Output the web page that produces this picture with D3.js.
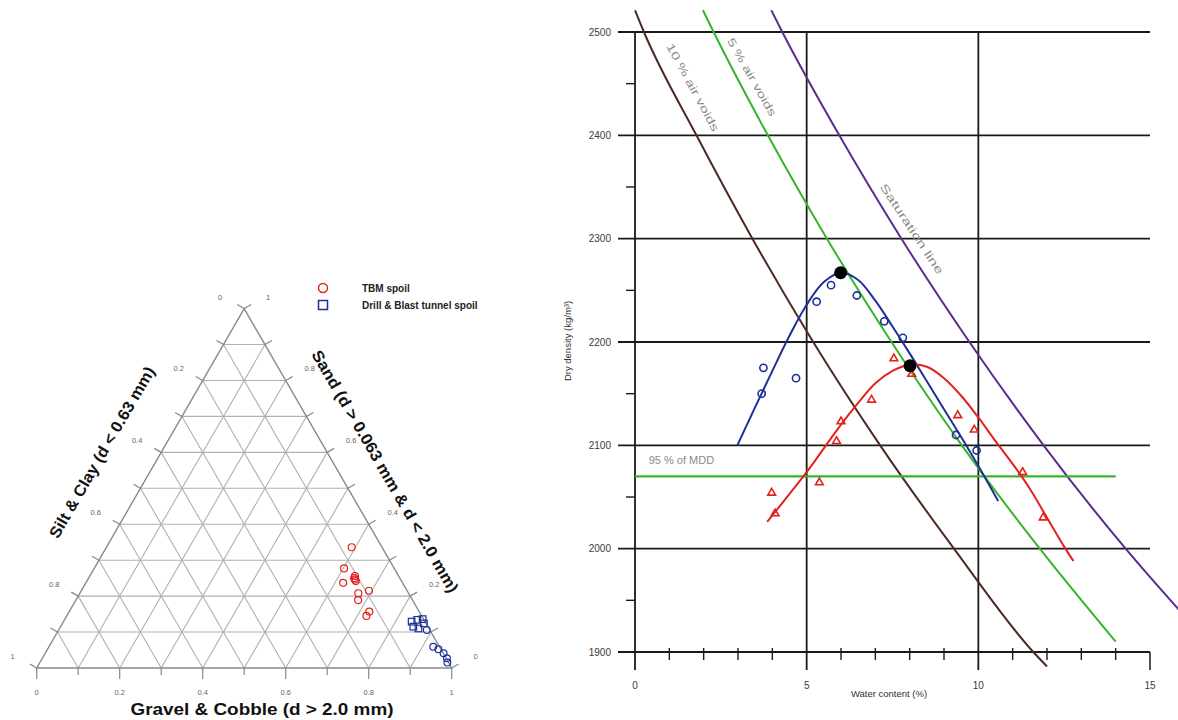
<!DOCTYPE html>
<html>
<head>
<meta charset="utf-8">
<script src="https://cdn.jsdelivr.net/npm/d3@7"></script>
<style>
  html, body { margin: 0; padding: 0; background: #ffffff; }
  svg { display: block; }
  text { font-family: "Liberation Sans", Arial, sans-serif; }
</style>
</head>
<body>
<svg id="chart" width="1178" height="720"></svg>
<script>
// ---------------- Ternary diagram data (fractions of gravel & sand; silt & clay is the rest)
const tbmGravel = [0.591, 0.602, 0.620, 0.640, 0.648, 0.644, 0.639, 0.693, 0.671, 0.680, 0.723, 0.722];
const tbmSand   = [0.336, 0.277, 0.237, 0.250, 0.242, 0.246, 0.256, 0.215, 0.208, 0.189, 0.157, 0.145];

const dbSquareGravel = [0.839, 0.850, 0.862, 0.850, 0.865, 0.871];
const dbSquareSand   = [0.129, 0.134, 0.136, 0.115, 0.110, 0.124];
const dbRoundGravel  = [0.887, 0.926, 0.942, 0.960, 0.975, 0.982];
const dbRoundSand    = [0.106, 0.059, 0.052, 0.041, 0.027, 0.015];

const ternaryTicks = [0, 0.2, 0.4, 0.6, 0.8, 1];
const legendLabels = ["TBM spoil", "Drill & Blast tunnel spoil"];

// ---------------- Compaction test data (water content %, dry density kg/m3)
const tbmWater   = [7.54, 8.06, 6.89, 6.00, 5.87, 5.37, 3.98, 4.08, 9.40, 9.88, 11.29, 11.89];
const tbmDensity = [2184, 2169, 2144, 2123, 2104, 2064, 2054, 2034, 2129, 2115, 2074, 2030];

const dbWater   = [3.74, 3.69, 4.69, 5.29, 5.71, 6.46, 7.26, 7.80, 9.35, 9.95];
const dbDensity = [2175, 2150, 2165, 2239, 2255, 2245, 2220, 2204, 2110, 2095];

// fitted compaction curves
const tbmCurveWater   = [3.85, 4.5, 5.0, 5.5, 6.0, 6.5, 7.0, 7.5, 8.0, 8.5, 9.0, 9.5, 10.0, 10.5, 11.0, 11.5, 12.0, 12.5, 12.77];
const tbmCurveDensity = [2026, 2053, 2074, 2097, 2120, 2141, 2160, 2172, 2178, 2176, 2165, 2148, 2127, 2104, 2082, 2058, 2030, 2002, 1988];

const dbCurveWater   = [2.98, 3.5, 4.0, 4.5, 5.0, 5.5, 6.0, 6.5, 7.0, 7.5, 8.0, 8.5, 9.0, 9.5, 10.0, 10.58];
const dbCurveDensity = [2100, 2137, 2172, 2206, 2236, 2258, 2267, 2260, 2240, 2215, 2189, 2162, 2135, 2108, 2080, 2046];

// maximum dry density points
const mddWater   = [5.99, 8.01];
const mddDensity = [2267, 2177];

// air-void lines
const void10Water   = [0, 0.26, 1.79, 3.42, 5.19, 7.14, 9.29, 11.6, 12.0];
const void10Density = [2521, 2500, 2400, 2300, 2200, 2100, 2000, 1900, 1886];
const void5Water    = [1.98, 2.29, 3.87, 5.59, 7.47, 9.52, 11.79, 14.0];
const void5Density  = [2521, 2500, 2400, 2300, 2200, 2100, 2000, 1910];
const satWater      = [3.97, 4.29, 5.95, 7.76, 9.74, 11.9, 14.29, 16.0];
const satDensity    = [2521, 2500, 2400, 2300, 2200, 2100, 2000, 1935];

// 95 % of maximum dry density
const mdd95Density = 2070;
const mdd95Water = [0, 14];

const xTickValues = [0, 5, 10, 15];
const yTickValues = [1900, 2000, 2100, 2200, 2300, 2400, 2500];

// ---------------- colours
const C = {
  red: "#e3211d",
  blue: "#1f2f98",
  brown: "#4b2b22",
  green: "#36b52b",
  purple: "#5a2c90",
  grid: "#1a1a1a",
  label: "#8a8a8a",
  tick: "#3a3a3a"
};

const svg = d3.select("#chart");

// =====================================================================
// Ternary diagram
// =====================================================================
const tern = svg.append("g").attr("class", "ternary");
const triLeft = 36.7, triRight = 451.7, triBase = 668;
const triSide = triRight - triLeft;
const triH = triSide * Math.sqrt(3) / 2;
const gx = d3.scaleLinear().domain([0, 1]).range([triLeft, triRight]);
const sy = d3.scaleLinear().domain([0, 1]).range([triBase, triBase - triH]);
const pt = (g, s) => [gx(g + s / 2), sy(s)];

const tenths = d3.range(1, 10).map(k => k / 10);
const gridSegs = [];
tenths.forEach(v => {
  gridSegs.push([pt(0, v), pt(1 - v, v)]);       // constant sand
  gridSegs.push([pt(v, 0), pt(v, 1 - v)]);       // constant gravel
  gridSegs.push([pt(1 - v, 0), pt(0, 1 - v)]);   // constant silt & clay
});
tern.selectAll("line.tgrid").data(gridSegs).join("line")
  .attr("class", "tgrid")
  .attr("x1", d => d[0][0]).attr("y1", d => d[0][1])
  .attr("x2", d => d[1][0]).attr("y2", d => d[1][1])
  .attr("stroke", "#b0b0b0").attr("stroke-width", 1.1);

tern.append("path")
  .attr("d", d3.line()([pt(0, 0), pt(1, 0), pt(0, 1)]) + "Z")
  .attr("fill", "none").attr("stroke", "#888888").attr("stroke-width", 1.4);

// ticks
const allTenths = d3.range(0, 11).map(k => k / 10);
const ticks = [];
allTenths.forEach((v, i) => {
  const major = i % 2 === 0;
  const b = pt(v, 0);
  ticks.push([b, [b[0], b[1] + (major ? 11 : 7)]]);
  const l = pt(0, v), len = 8;
  ticks.push([l, [l[0] - 0.866 * len, l[1] - 0.5 * len]]);
  const r = pt(1 - v, v);
  ticks.push([r, [r[0] + 0.866 * len, r[1] - 0.5 * len]]);
});
tern.selectAll("line.ttick").data(ticks).join("line")
  .attr("class", "ttick")
  .attr("x1", d => d[0][0]).attr("y1", d => d[0][1])
  .attr("x2", d => d[1][0]).attr("y2", d => d[1][1])
  .attr("stroke", "#888888").attr("stroke-width", 1.2);

const fmtT = v => (v === 0 || v === 1) ? String(v) : v.toFixed(1);
tern.selectAll("text.tb").data(ternaryTicks).join("text")
  .attr("class", "tb")
  .attr("x", d => gx(d)).attr("y", triBase + 27)
  .attr("text-anchor", "middle").attr("font-size", 7.5).attr("fill", "#666")
  .text(fmtT);
tern.selectAll("text.tl").data(ternaryTicks).join("text")
  .attr("class", "tl")
  .attr("x", d => pt(0, 1 - d)[0] - 24).attr("y", d => pt(0, 1 - d)[1] - 9)
  .attr("text-anchor", "middle").attr("font-size", 7.5).attr("fill", "#666")
  .text(fmtT);
tern.selectAll("text.tr").data(ternaryTicks).join("text")
  .attr("class", "tr")
  .attr("x", d => pt(1 - d, d)[0] + 24).attr("y", d => pt(1 - d, d)[1] - 9)
  .attr("text-anchor", "middle").attr("font-size", 7.5).attr("fill", "#666")
  .text(fmtT);

// axis titles
tern.append("text")
  .attr("transform", "translate(103,453) rotate(-60)")
  .attr("text-anchor", "middle").attr("dominant-baseline", "middle")
  .attr("font-size", 16).attr("font-weight", "bold").attr("fill", "#111")
  .attr("textLength", 195).attr("lengthAdjust", "spacingAndGlyphs")
  .text("Silt & Clay (d < 0.63 mm)");
tern.append("text")
  .attr("transform", "translate(384,472) rotate(60)")
  .attr("text-anchor", "middle").attr("dominant-baseline", "middle")
  .attr("font-size", 16).attr("font-weight", "bold").attr("fill", "#111")
  .attr("textLength", 277).attr("lengthAdjust", "spacingAndGlyphs")
  .text("Sand (d > 0.063 mm & d < 2.0 mm)");
tern.append("text")
  .attr("x", 262).attr("y", 715)
  .attr("text-anchor", "middle")
  .attr("font-size", 16).attr("font-weight", "bold").attr("fill", "#111")
  .attr("textLength", 263).attr("lengthAdjust", "spacingAndGlyphs")
  .text("Gravel & Cobble (d > 2.0 mm)");

// points
const tbmPts = tbmGravel.map((g, i) => pt(g, tbmSand[i]));
tern.selectAll("circle.tbm").data(tbmPts).join("circle")
  .attr("class", "tbm")
  .attr("cx", d => d[0]).attr("cy", d => d[1]).attr("r", 3.5)
  .attr("fill", "none").attr("stroke", C.red).attr("stroke-width", 1.2);

const dbSq = dbSquareGravel.map((g, i) => pt(g, dbSquareSand[i]));
tern.selectAll("rect.db").data(dbSq).join("rect")
  .attr("class", "db")
  .attr("x", d => d[0] - 3.3).attr("y", d => d[1] - 3.3)
  .attr("width", 6.6).attr("height", 6.6)
  .attr("fill", "none").attr("stroke", C.blue).attr("stroke-width", 1.2);
const dbRd = dbRoundGravel.map((g, i) => pt(g, dbRoundSand[i]));
tern.selectAll("circle.dbr").data(dbRd).join("circle")
  .attr("class", "dbr")
  .attr("cx", d => d[0]).attr("cy", d => d[1]).attr("r", 3.4)
  .attr("fill", "none").attr("stroke", C.blue).attr("stroke-width", 1.2);

// legend
const leg = tern.append("g");
leg.append("circle").attr("cx", 323).attr("cy", 288).attr("r", 4.5)
  .attr("fill", "none").attr("stroke", C.red).attr("stroke-width", 1.5);
leg.append("rect").attr("x", 318.5).attr("y", 300.5).attr("width", 9).attr("height", 9)
  .attr("fill", "none").attr("stroke", C.blue).attr("stroke-width", 1.5);
leg.selectAll("text").data(legendLabels).join("text")
  .attr("x", 362).attr("y", (d, i) => 292 + i * 17)
  .attr("font-size", 10).attr("font-weight", "bold").attr("fill", "#222")
  .text(d => d);

// =====================================================================
// Compaction chart
// =====================================================================
const comp = svg.append("g").attr("class", "compaction");
const x = d3.scaleLinear().domain([0, 15]).range([635, 1150]);
const y = d3.scaleLinear().domain([1900, 2500]).range([652, 32]);

// horizontal grid lines
comp.selectAll("line.hg").data(yTickValues).join("line")
  .attr("class", "hg")
  .attr("x1", x(0) - 17).attr("x2", x(15))
  .attr("y1", d => y(d)).attr("y2", d => y(d))
  .attr("stroke", C.grid).attr("stroke-width", 1.8);
// vertical grid lines and axis
comp.selectAll("line.vg").data(xTickValues.slice(0, 3)).join("line")
  .attr("class", "vg")
  .attr("x1", d => x(d)).attr("x2", d => x(d))
  .attr("y1", y(2500)).attr("y2", y(1900) + 18)
  .attr("stroke", C.grid).attr("stroke-width", 1.8);
comp.append("line")
  .attr("x1", x(15)).attr("x2", x(15))
  .attr("y1", y(1900)).attr("y2", y(1900) + 18)
  .attr("stroke", C.grid).attr("stroke-width", 1.5);
// minor ticks
const xMinor = d3.range(1, 15).filter(v => v % 5 !== 0);
comp.selectAll("line.xm").data(xMinor).join("line")
  .attr("class", "xm")
  .attr("x1", d => x(d)).attr("x2", d => x(d))
  .attr("y1", y(1900) - 4).attr("y2", y(1900) + 8)
  .attr("stroke", C.grid).attr("stroke-width", 1.4);
const yMinor = d3.range(1950, 2500, 100);
comp.selectAll("line.ym").data(yMinor).join("line")
  .attr("class", "ym")
  .attr("x1", x(0) - 9).attr("x2", x(0))
  .attr("y1", d => y(d)).attr("y2", d => y(d))
  .attr("stroke", C.grid).attr("stroke-width", 1.4);

// tick labels
comp.selectAll("text.yl").data(yTickValues).join("text")
  .attr("class", "yl")
  .attr("x", x(0) - 24).attr("y", d => y(d) + 3.5)
  .attr("text-anchor", "end").attr("font-size", 10).attr("fill", C.tick)
  .text(d => d);
comp.selectAll("text.xl").data(xTickValues).join("text")
  .attr("class", "xl")
  .attr("x", d => x(d)).attr("y", y(1900) + 37)
  .attr("text-anchor", "middle").attr("font-size", 10).attr("fill", C.tick)
  .text(d => d);
comp.append("text")
  .attr("x", 889).attr("y", 697)
  .attr("text-anchor", "middle").attr("font-size", 9.5).attr("fill", "#333")
  .text("Water content (%)");
comp.append("text")
  .attr("transform", "translate(571,341) rotate(-90)")
  .attr("text-anchor", "middle").attr("font-size", 9.5).attr("fill", "#333")
  .text("Dry density (kg/m³)");

// air-void and saturation lines
const lineGen = d3.line().x(d => x(d[0])).y(d => y(d[1])).curve(d3.curveMonotoneX);
const zip = (a, b) => a.map((v, i) => [v, b[i]]);
const refLines = [
  { w: void10Water, d: void10Density, color: C.brown },
  { w: void5Water, d: void5Density, color: C.green },
  { w: satWater, d: satDensity, color: C.purple }
];
comp.selectAll("path.ref").data(refLines).join("path")
  .attr("class", "ref")
  .attr("d", r => lineGen(zip(r.w, r.d)))
  .attr("fill", "none").attr("stroke", r => r.color).attr("stroke-width", 2);

// 95 % MDD line
comp.append("line")
  .attr("x1", x(mdd95Water[0])).attr("x2", x(mdd95Water[1]))
  .attr("y1", y(mdd95Density)).attr("y2", y(mdd95Density))
  .attr("stroke", C.green).attr("stroke-width", 2.2);
comp.append("text")
  .attr("x", x(0.4)).attr("y", y(mdd95Density) - 12)
  .attr("font-size", 11).attr("fill", C.label)
  .text("95 % of MDD");

// labels along the reference lines
function lineAngle(ws, ds, i) {
  const dx = x(ws[i + 1]) - x(ws[i]);
  const dy = y(ds[i + 1]) - y(ds[i]);
  return Math.atan2(dy, dx) * 180 / Math.PI;
}
const refLabels = [
  { text: "10 % air voids", w: 1.66, d: 2446, ang: lineAngle(void10Water, void10Density, 2), len: 98 },
  { text: "5 % air voids", w: 3.38, d: 2456, ang: lineAngle(void5Water, void5Density, 2), len: 88 },
  { text: "Saturation line", w: 8.04, d: 2309, ang: lineAngle(satWater, satDensity, 3), len: 106 }
];
comp.selectAll("text.rl").data(refLabels).join("text")
  .attr("class", "rl")
  .attr("transform", r => `translate(${x(r.w)},${y(r.d)}) rotate(${r.ang})`)
  .attr("text-anchor", "middle").attr("dominant-baseline", "middle")
  .attr("font-size", 11).attr("fill", C.label)
  .attr("textLength", r => r.len).attr("lengthAdjust", "spacingAndGlyphs")
  .text(r => r.text);

// compaction curves
const curveGen = d3.line().x(d => x(d[0])).y(d => y(d[1])).curve(d3.curveCatmullRom.alpha(0.5));
comp.append("path")
  .attr("d", curveGen(zip(dbCurveWater, dbCurveDensity)))
  .attr("fill", "none").attr("stroke", C.blue).attr("stroke-width", 2);
comp.append("path")
  .attr("d", curveGen(zip(tbmCurveWater, tbmCurveDensity)))
  .attr("fill", "none").attr("stroke", C.red).attr("stroke-width", 2);

// test points
comp.selectAll("circle.dbp").data(zip(dbWater, dbDensity)).join("circle")
  .attr("class", "dbp")
  .attr("cx", d => x(d[0])).attr("cy", d => y(d[1])).attr("r", 3.6)
  .attr("fill", "none").attr("stroke", C.blue).attr("stroke-width", 1.6);
const tri = d3.symbol(d3.symbolTriangle, 26);
comp.selectAll("path.tbp").data(zip(tbmWater, tbmDensity)).join("path")
  .attr("class", "tbp")
  .attr("transform", d => `translate(${x(d[0])},${y(d[1])})`)
  .attr("d", tri)
  .attr("fill", "none").attr("stroke", C.red).attr("stroke-width", 1.6);

// maximum dry density markers
comp.selectAll("circle.mdd").data(zip(mddWater, mddDensity)).join("circle")
  .attr("class", "mdd")
  .attr("cx", d => x(d[0])).attr("cy", d => y(d[1])).attr("r", 6.5)
  .attr("fill", "#000");
</script>
</body>
</html>
